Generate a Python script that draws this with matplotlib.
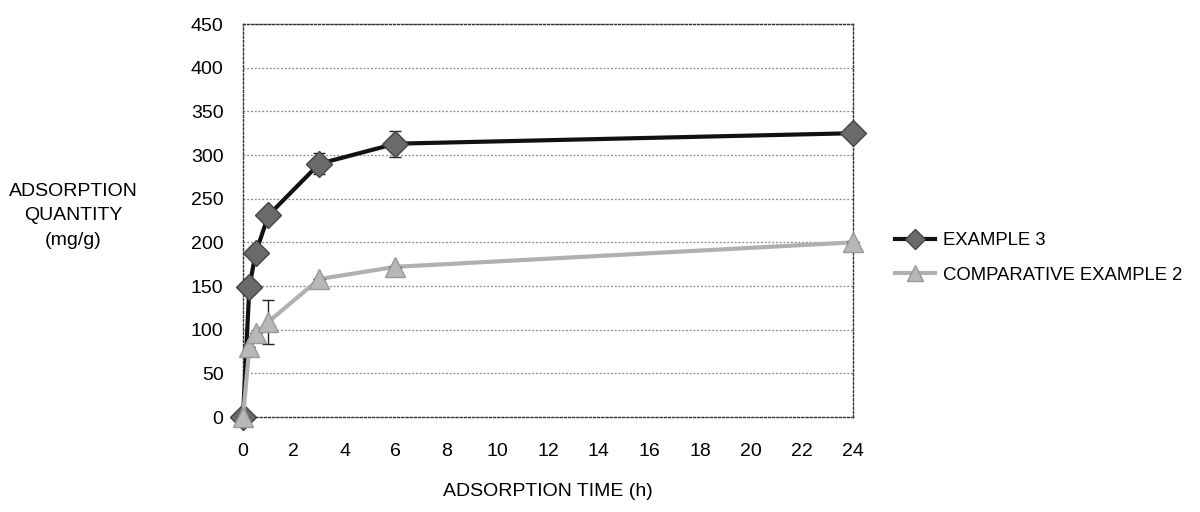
import matplotlib
matplotlib.use("Agg")
import matplotlib.pyplot as plt
from matplotlib.lines import Line2D

plt.rcParams['font.family'] = ['Liberation Sans', 'DejaVu Sans']
FS = 14

time_h = [0, 0.25, 0.5, 1, 3, 6, 24]
example3 = [0, 149, 188, 231, 290, 313, 325]
example3_err = [0, 0, 0, 0, 12, 15, 4]
comp2 = [0, 80, 96, 109, 158, 172, 200]
comp2_err = [0, 0, 0, 25, 0, 0, 0]

x_ticks = list(range(0, 25, 2))
y_ticks = list(range(0, 451, 50))

fig = plt.figure(figsize=(12, 5.12), dpi=100)
ax = fig.add_axes([0.2025, 0.1855, 0.5083, 0.7675])

ax.set_xlim(0, 24)
ax.set_ylim(0, 450)
ax.set_xticks(x_ticks)
ax.set_yticks(y_ticks)
ax.tick_params(length=0, labelsize=FS)
ax.tick_params(axis='x', pad=19)
ax.tick_params(axis='y', pad=14)

for v in y_ticks[1:]:
    ax.axhline(v, color='#888888', lw=0.9, ls=(0, (1.5, 1.5)), zorder=1)
for s in ax.spines.values():
    s.set_linestyle((0, (1.5, 1.5)))
    s.set_color('#333333')
    s.set_linewidth(1.0)

# example 3
ax.plot(time_h, example3, color='#111111', lw=3, zorder=3)
ax.errorbar(time_h, example3, yerr=example3_err, fmt='none', ecolor='#222222',
            elinewidth=1, capsize=4, capthick=1, zorder=4)
ax.plot(time_h, example3, ls='none', marker='D', ms=13, mfc='#6a6a6a',
        mec='#444444', mew=1, zorder=5)

# comparative example 2
ax.plot(time_h, comp2, color='#b0b0b0', lw=3, zorder=6)
ax.errorbar(time_h, comp2, yerr=comp2_err, fmt='none', ecolor='#222222',
            elinewidth=1, capsize=4, capthick=1, zorder=7)
ax.plot(time_h, comp2, ls='none', marker='^', ms=15, mfc='#b8b8b8',
        mec='#999999', mew=1, zorder=8)

for art in ax.lines:
    art.set_clip_on(False)
for coll in ax.collections:
    coll.set_clip_on(False)

fig.text(73 / 1200, 1 - 216 / 512, "ADSORPTION\nQUANTITY\n(mg/g)", ha='center',
         va='center', fontsize=FS, linespacing=1.55)
fig.text(548 / 1200, 1 - 492 / 512, "ADSORPTION TIME (h)", ha='center',
         va='center', fontsize=FS)

handles = [
    Line2D([], [], color='#111111', lw=3, marker='D', ms=10, mfc='#6a6a6a', mec='#444444'),
    Line2D([], [], color='#b0b0b0', lw=3, marker='^', ms=11, mfc='#b8b8b8', mec='#999999'),
]
fig.legend(handles, ["EXAMPLE 3", "COMPARATIVE EXAMPLE 2"], loc='center left',
           bbox_to_anchor=(889 / 1200, 1 - 258 / 512), frameon=False,
           fontsize=13.3, handlelength=2.2, handletextpad=0.45, labelspacing=0.95,
           borderaxespad=0, borderpad=0.3)

fig.savefig("out.png", dpi=100)
